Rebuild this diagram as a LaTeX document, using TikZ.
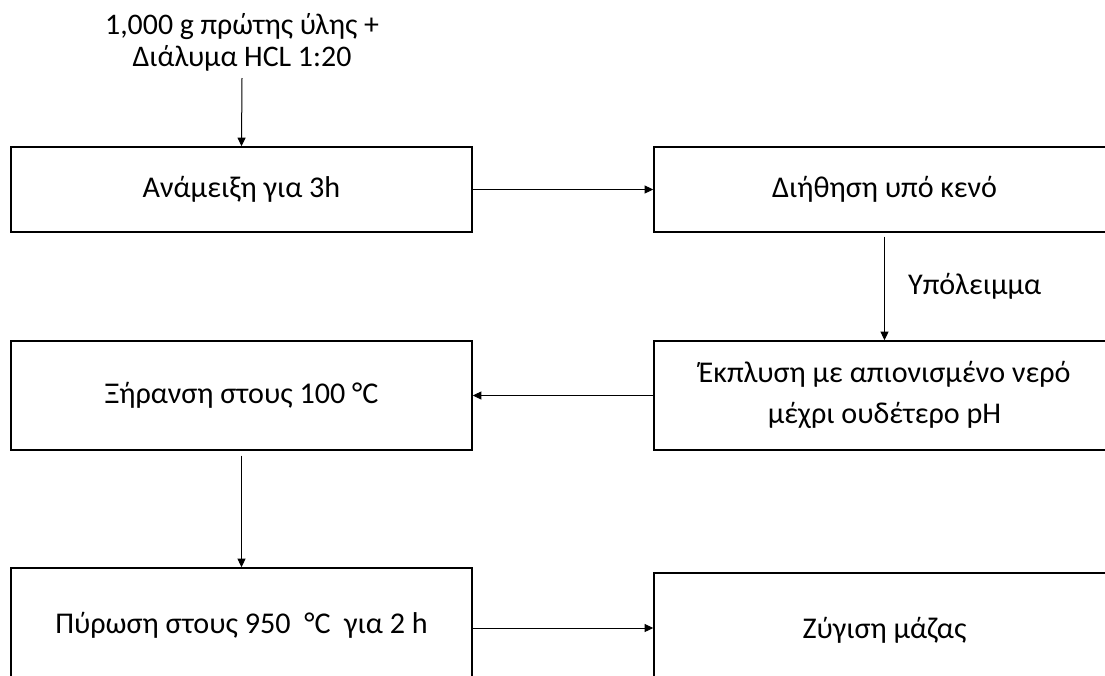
\documentclass[tikz,border=0pt]{standalone}
\usepackage{fontspec}
\setmainfont{Carlito}
\usetikzlibrary{arrows.meta}

\begin{document}
\begin{tikzpicture}[x=0.75pt,y=-0.75pt,
  stage/.style={draw, line width=1.1pt, minimum width=345.75pt, inner sep=0pt,
    align=center, font=\fontsize{22.6}{28.5}\selectfont},
  flow/.style={draw, line width=0.75pt, -{Triangle[length=6.5pt,width=6pt]}},
  note/.style={align=center, font=\fontsize{22.4}{24}\selectfont}
]
\useasboundingbox (0,0) rectangle (1105,675);

% input materials
\node[note] (feed) at (242,42) {1,000 g πρώτης ύλης +\\Διάλυμα HCL 1:20};

% process stages
\node[stage, minimum height=63.75pt] (mix)   at (241.5,189.5) {Ανάμειξη για 3h};
\node[stage, minimum height=63.75pt] (filt)  at (884.5,189.5) {Διήθηση υπό κενό};
\node[stage, minimum height=81.75pt] (wash)  at (884.5,395.5) {\raisebox{-7pt}{\begin{tabular}{@{}c@{}}Έκπλυση με απιονισμένο νερό\\[2pt]μέχρι ουδέτερο pH\end{tabular}}};
\node[stage, minimum height=81.75pt] (dry)   at (241.5,395.5) {Ξήρανση στους 100 °C};
\node[stage, minimum height=85.5pt]  (fire)  at (241.5,625)   {Πύρωση στους 950\ \ °C\ \ για 2 h};
\node[stage, minimum height=85.5pt]  (weigh) at (884.5,630)   {Ζύγιση μάζας};

% connectors
\draw[flow] (feed.south |- 0,78) -- (mix.north);
\draw[flow] (mix.east) -- (mix.east -| filt.west);
\draw[flow, shorten <=3pt] (filt.south) -- node[right=14pt, font=\fontsize{22.6}{24}\selectfont] (resid) {Υπόλειμμα} (filt.south |- wash.north);
\draw[flow] (wash.west) -- (wash.west -| dry.east);
\draw[flow, shorten <=3.75pt] (dry.south) -- (dry.south |- fire.north);
\draw[flow] (fire.east |- 0,628) -- (weigh.west |- 0,628);
\end{tikzpicture}
\end{document}
